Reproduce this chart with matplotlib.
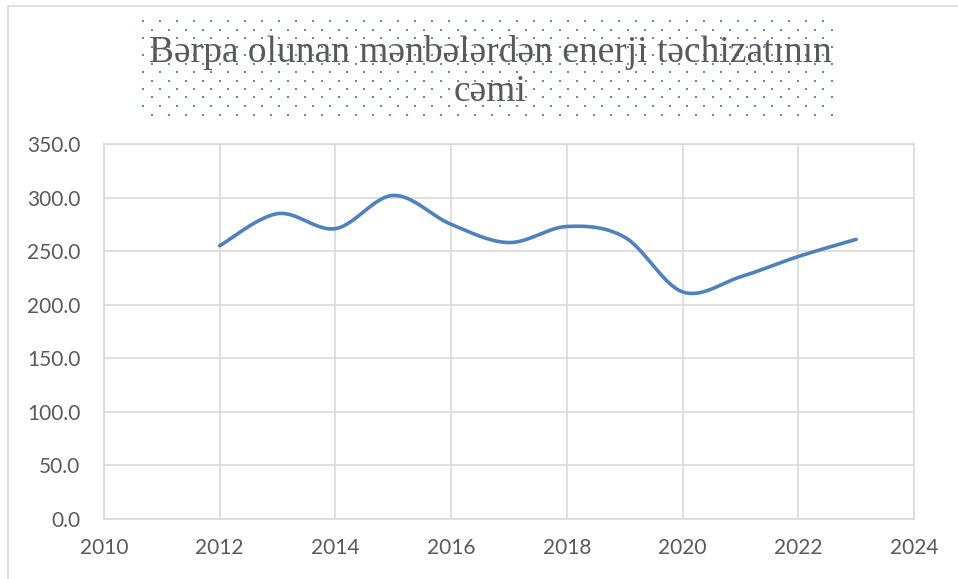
import numpy as np
import matplotlib.pyplot as plt
from matplotlib.patches import Rectangle

# ---- data ---------------------------------------------------------------
years = [2012, 2013, 2014, 2015, 2016, 2017, 2018, 2019, 2020, 2021, 2022, 2023]
supply = [255, 285, 271, 302, 275, 258, 273, 263, 212, 226, 245, 261]
y_ticks = [0, 50, 100, 150, 200, 250, 300, 350]
x_ticks = [2010, 2012, 2014, 2016, 2018, 2020, 2022, 2024]
title = "Bərpa olunan mənbələrdən enerji təchizatının\ncəmi"

GRID = "#d9d9d9"
TEXT = "#595959"
LINE = "#4f81bd"


def smooth(x, y, steps=30):
    """Excel-style smoothed line: cubic Bezier segments, Catmull-Rom controls."""
    x = np.asarray(x, float)
    y = np.asarray(y, float)
    px = np.r_[x[0], x, x[-1]]
    py = np.r_[y[0], y, y[-1]]
    t = np.linspace(0, 1, steps)[:, None]
    xs, ys = [], []
    for i in range(1, len(x)):
        p0 = np.array([px[i], py[i]])
        p3 = np.array([px[i + 1], py[i + 1]])
        c1 = p0 + (p3 - np.array([px[i - 1], py[i - 1]])) / 6
        c2 = p3 - (np.array([px[i + 2], py[i + 2]]) - p0) / 6
        seg = ((1 - t) ** 3) * p0 + 3 * ((1 - t) ** 2) * t * c1 \
            + 3 * (1 - t) * t ** 2 * c2 + t ** 3 * p3
        xs.append(seg[:, 0])
        ys.append(seg[:, 1])
    return np.concatenate(xs), np.concatenate(ys)


fig = plt.figure(figsize=(9.58, 5.79), dpi=100)
W, H = 958, 579

# chart frame (only the top and left edges are inside the picture)
fig.patches.append(Rectangle((8 / W, -0.05), 1.1, 1 - 6 / H + 0.05,
                             transform=fig.transFigure, fill=False,
                             edgecolor=GRID, linewidth=1.2))

# dotted title background
dx, dy = 17, 17
pts = []
for yy in np.arange(21, 118, dy / 2):
    row = int(round((yy - 21) / (dy / 2)))
    x0 = 143 if row % 2 == 0 else 143 + dx / 2
    for xx in np.arange(x0, 836, dx):
        pts.append((xx / W, 1 - yy / H))
pts = np.array(pts)
fig.add_artist(plt.Line2D(pts[:, 0], pts[:, 1], linestyle="none", marker="s",
                          markersize=1.5, markeredgewidth=0, color="#4a7fc8",
                          alpha=0.9, transform=fig.transFigure))

fig.text(490 / W, 1 - 72 / H, title, ha="center", va="center",
         family="Liberation Serif", fontsize=27, color=TEXT, linespacing=1.2)

ax = fig.add_axes([104 / W, 1 - 519 / H, (914 - 104) / W, (519 - 144) / H])
sx, sy = smooth(years, supply)
ax.plot(sx, sy, color=LINE, linewidth=2.6, solid_capstyle="round")

ax.set_xlim(2010, 2024)
ax.set_ylim(0, 350)
ax.set_xticks(x_ticks)
ax.set_yticks(y_ticks)
ax.set_yticklabels([f"{v:.1f}" for v in y_ticks])
ax.grid(True, color=GRID, linewidth=1.2)
ax.set_axisbelow(True)
for s in ax.spines.values():
    s.set_color(GRID)
    s.set_linewidth(1.2)
ax.tick_params(length=0, colors=TEXT, labelsize=15)
ax.tick_params(axis="y", pad=17)
ax.tick_params(axis="x", pad=14)
for lab in ax.get_xticklabels() + ax.get_yticklabels():
    lab.set_family("Lato")

fig.savefig("out.png", dpi=100)
